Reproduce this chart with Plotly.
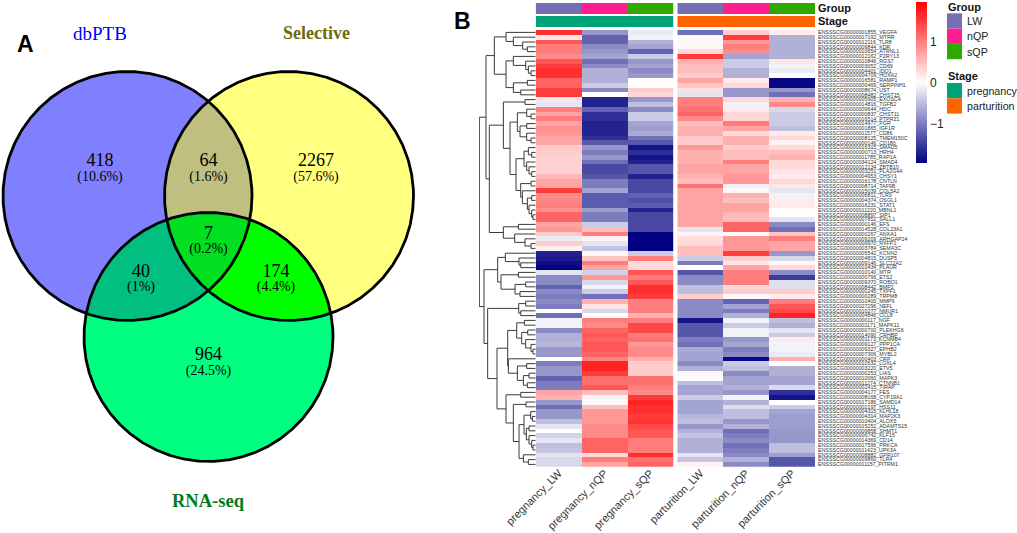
import numpy as np
import plotly.graph_objects as go

W, H = 1017, 533

# ---------- Venn data ----------
set_names = ["dbPTB", "Selective", "RNA-seq"]
region_counts = [418, 64, 2267, 40, 7, 174, 964]
region_percents = ["(10.6%)", "(1.6%)", "(57.6%)", "(1%)", "(0.2%)", "(4.4%)", "(24.5%)"]

# ---------- Heatmap data ----------
samples_pregnancy = ["pregnancy_LW", "pregnancy_nQP", "pregnancy_sQP"]
samples_parturition = ["parturition_LW", "parturition_nQP", "parturition_sQP"]
group_names = ["LW", "nQP", "sQP"]
stage_names = ["pregnancy", "parturition"]

gene_labels = """ENSSSCG00000001855_VEGFA
ENSSSCG00000017192_MTRR
ENSSSCG00000012116_TLR8
ENSSSCG00000009844_KDR
ENSSSCG00000010654_ATRNL1
ENSSSCG00000012162_P2RY13
ENSSSCG00000010846_RGS7
ENSSSCG00000003052_CD69
ENSSSCG00000004401_IDO1
ENSSSCG00000004709_HOXA2
ENSSSCG00000016581_RAMP1
ENSSSCG00000000469_SERPINH1
ENSSSCG00000008674_UST
ENSSSCG00000008482_CHST15
ENSSSCG00000005905_EXOSC4
ENSSSCG00000014816_TGFB2
ENSSSCG00000009644_HDC
ENSSSCG00000000837_CHST11
ENSSSCG00000016514_PTPRZ1
ENSSSCG00000014977_PGR
ENSSSCG00000001865_IGF1R
ENSSSCG00000011577_CD86
ENSSSCG00000008125_TMEM150C
ENSSSCG00000000146_CD180
ENSSSCG00000016315_SMAD5
ENSSSCG00000000713_HRH4
ENSSSCG00000011785_RAP1A
ENSSSCG00000034124_SMAD4
ENSSSCG00000012134_ZBTB10
ENSSSCG00000003251_PLA2G4A
ENSSSCG00000004953_CHSY1
ENSSSCG00000016178_CNTLN
ENSSSCG00000008714_TAF9B
ENSSSCG00000015039_COL5A2
ENSSSCG00000006811_TLR3
ENSSSCG00000004374_OSGL1
ENSSSCG00000016231_STAT1
ENSSSCG00000011220_MBNL1
ENSSSCG00000008897_SIP1
ENSSSCG00000007852_SALL1
ENSSSCG00000000146_EFS
ENSSSCG00000014528_COL23A1
ENSSSCG00000000267_ANXA1
ENSSSCG00000009209_ARHGAP24
ENSSSCG00000009970_RXFP1
ENSSSCG00000003784_SEMA3C
ENSSSCG00000005542_KCNN2
ENSSSCG00000004815_DUSP5
ENSSSCG00000009146_SLC22A2
ENSSSCG00000010434_PLAUR
ENSSSCG00000010140_MTR
ENSSSCG00000000796_ETS2
ENSSSCG00000009370_ROBO1
ENSSSCG00000008442_BMP2
ENSSSCG00000000245_TXPF1
ENSSSCG00000000289_TRPM8
ENSSSCG00000010400_MMP9
ENSSSCG00000027296_NEFL
ENSSSCG00000010277_NMUR1
ENSSSCG00000004846_CCL8
ENSSSCG00000000117_NGF
ENSSSCG00000001171_MAPK11
ENSSSCG00000000700_PLEKHG6
ENSSSCG00000014090_CRHBP
ENSSSCG00000001173_KCNMB4
ENSSSCG00000009127_PPP1CA
ENSSSCG00000009327_EPHB2
ENSSSCG00000007306_MYBL2
ENSSSCG00000000403_CRP
ENSSSCG00000010532_LOXL4
ENSSSCG00000003220_ETV5
ENSSSCG00000000253_LIAS
ENSSSCG00000010060_MAPK3
ENSSSCG00000011274_CTNNB1
ENSSSCG00000002415_TIRAP
ENSSSCG00000004177_FES
ENSSSCG00000008168_CYP19A1
ENSSSCG00000017186_SAMD14
ENSSSCG00000002197_HSS11
ENSSSCG00000004315_KLHL18
ENSSSCG00000004314_MAP2K3
ENSSSCG00000010404_ALOX5
ENSSSCG00000015252_ADAMTS15
ENSSSCG00000009858_SHMT1
ENSSSCG00000006742_KLF15
ENSSSCG00000014369_CD14
ENSSSCG00000017596_PRKCA
ENSSSCG00000011423_UPK3A
ENSSSCG00000008882_GPR107
ENSSSCG00000009860_TLR4
ENSSSCG00000011157_PITRM1""".split("\n")

pregnancy_LW = [1.6,.2,1.3,1,1,.9,1.3,1.5,1.6,1.6, 1.2,1.2,1.5,1.5,.2,-.2,1,.7,1,.7, .85,.8,.7,.7,.4,.4,.35,.35,.35,.35, .55,.7,.7,1.5,.9,.95,1,.85,1.2,1.2, .7,.8,.4,-.15,.4,.1,-1.7,-1.75,-1.85,-1.95, -.2,-.9,-.9,-1.2,-.9,-1,-.9,-1,0,-1.1, -.1,-.1,-.9,-.6,-.6,-.55,-.8,-.8,0,-1, -.8,-.8,-1.2,-1,-1,.7,.6,-.8,-1.1,-.8, -.8,-.5,-.2,0,-.35,-.2,-.5,-.45,-.2,-.3, -.3]
pregnancy_nQP = [-.8,-1.2,-1.2,-.9,-.8,-.7,-1.1,-.9,-.6,-.6, -.6,-.4,-.9,0,-1.7,-1.7,-1.2,-1.6,-1.6,-1.7, -1.7,-1.7,-1.6,-1.3,-.8,-1,-.8,-1.1,-1.4,-1.4, -1.3,-1,-1,-.7,-1.25,-1.25,-1.25,-.75,-1,-1, -.4,.5,1,.1,-.2,-.45,.05,.45,1,.7, -.35,.8,-.3,-.1,-.4,-1.1,.6,.2,-.3,0, 1,.9,1.2,1.3,1.2,1.3,1.3,1.2,.95,1.7, 1.7,1.5,1.1,1.1,1.3,.5,.1,.05,.5,.8, .8,.8,.9,.9,.9,1.2,1.2,1.2,.3,1, .7]
pregnancy_sQP = [-.15,-.1,-.6,-.7,-1.2,-.4,-.8,-.7,-.9,-.8, .03,.02,.4,.3,-.8,-.5,-.9,-.4,-.4,-.7, -.75,-.65,-1.1,-1.3,-1.8,-1.6,-1.8,-1.7,-1.3,-1.3, -1.7,-1.4,-1.4,-1.4,-1.2,-1.35,-1.25,-1.7,-1.4,-1.4, -1.4,-1.4,-1.95,-1.95,-1.95,-1.95,-.4,1,.3,.3, 1.3,1,1.3,1.6,1.6,1.5,1,1,1,.6, 1,1.4,1.4,1,1.1,.8,.9,.9,.6,.4, .4,.4,1.1,1.1,1,.9,1.5,1.7,1.6,1.6, 1.5,1.55,1.4,1.3,1.3,1,1,1,1.6,1.1, 1.2]
parturition_LW = [-1.1,.05,.05,.05,.3,1.5,.6,.5,.5,.4, .7,.45,.25,-.2,1,1,1.1,1.2,.9,.5, .6,.6,.4,.4,.8,.6,.6,.6,.7,.7, .6,.5,1.1,.7,.7,.7,.7,.7,.7,.7, .7,-.2,.1,.25,.3,.5,.5,-.4,-1,0, -1.3,-.9,-.9,-.5,-.5,.4,-.9,-.9,-.9,-.9, -1.8,-1.3,-1.3,-1.3,-1,-1.1,-.65,-.7,-.7,-.9, -.6,.07,0,-.5,-.7,-.7,-.4,-.7,-.7,-.7, -.55,-.5,-.8,-.6,-.45,-.6,-.6,-.6,-.2,-.45, .1]
parturition_nQP = [.4,1.5,.8,1,.9,-.7,-.4,-.4,-.6,-.6, .15,.3,-.8,-.8,.3,-.1,.15,.3,.3,1, .7,.3,.6,.6,.4,.5,.5,1,.7,.7, .8,.8,-.1,.05,.6,.5,.7,.7,.55,.5, 1.2,1.2,.05,.8,.8,.8,1.5,.4,.2,.7, 1,1,1,.3,.4,.05,-1.2,-.7,-1,-.6, -.1,-.4,-.1,-.1,-.8,-.7,-1,-.9,-1.9,-.4, -.5,-.9,-.7,-.7,-.6,-.8,-.1,-.6,-.25,-.5, -.5,-.8,-.6,-1.1,-1,-.9,-1.1,-1,-.9,-.6, -.9]
parturition_sQP = [.15,-.6,-.6,-.6,-.6,-.6,.2,-.1,-.15,0, -1.9,-1.9,-.8,-1.1,.6,.9,-.3,-.4,-.4,-.4, -.5,.15,.3,.1,.3,.5,.6,.3,.3,.2, .15,.3,.2,-.2,-.1,.15,.15,.02,.02,-.2, -.9,-1.1,.45,1,.7,.7,-.8,-.3,.05,.3, -.9,-1.5,-.25,-.25,.4,.15,1,1.3,1.4,1.7, -.5,-.6,-.2,-.4,.15,-.1,-.1,-.15,.6,0, -.6,-.6,-.7,-.7,-.3,-1.6,-1.8,0,-.4,-.7, -.75,-.75,-.75,-.8,-.8,-.8,-.5,-.5,-.75,-1.3, -1.3]

# Row dendrogram: nested (height, left, right); integers are rows.
dendro = (169,
  (149,
    (124,
      (89, 0, (67, 1, (39, 2, (25, 3, 4)))),
      (89,
        (67, 5, (30, 6, (22, 7, (14, 8, 9)))),
        (67, (25, 10, 11), (45, 12, 13)))),
    (139,
      (97,
        (32, 14, 15),
        (77,
          (55,
            (27, 16, (14, 17, 18)),
            (47, (27, 19, 20), (27, 21, (14, 22, 23)))),
          (59,
            (35,
              (22, 24, (12, 25, 26)),
              (27, 27, (20, 28, (12, 29, 30)))),
            (45,
              (14, 31, 32),
              (40, 33, (25, (12, 34, 35), (20, 36, (12, 37, (8, 38, 39))))))))),
      (97,
        (52, 40, 41),
        (63, 42, (32, 43, (14, 44, 45)))))),
  (155,
    (114,
      (91, 46, (50, 47, (45, 48, 49))),
      (104,
        (52, 50, 51),
        (62, (30, 52, 53), (47, 54, 55)))),
    (144,
      (51, (30, 56, 57), (45, 58, 59)),
      (116,
        (84,
          (57,
            (34, 60, 61),
            (42, (24, 62, 63), (30, 64, (14, 65, (8, 66, 67))))),
          (82,
            68,
            (55, (27, 69, 70), (37, (20, 71, 72), (25, 73, 74))))),
        (89,
          (45, 75, 76),
          (67,
            (29, 77, 78),
            (50,
              (35,
                (15, 79, (10, 80, 81)),
                (28, (20, 82, 83), (20, 84, (12, 85, (8, 86, 87))))),
              (37, 88, (22, 89, 90))))))))
)

# ---------- Styling ----------
def px_x(p): return p / W
def px_y(p): return 1 - p / H

SANS = "Liberation Sans"
SERIF = "Liberation Serif"
colors_group = ["#7570B3", "#FF1E8E", "#2FA800"]
colors_stage = ["#00A277", "#FF6400"]
heat_scale = [[0, "#000080"], [0.5, "#FFFFFF"], [1, "#FF0000"]]

circles = [(127.5, 196, 124.5), (289, 196, 124.5), (208.5, 337, 124.5)]
region_text_xy = [(100, 161.5), (208.5, 161.5), (316, 161.5), (141, 272), (208.5, 234), (276, 272), (208.5, 355.5)]


def intersection_polygon(idx):
    """Outline of the (convex) intersection of the chosen circles."""
    cx = np.mean([circles[i][0] for i in idx])
    cy = np.mean([circles[i][1] for i in idx])
    th = np.linspace(0, 2 * np.pi, 721)
    dx, dy = np.cos(th), np.sin(th)
    radii = []
    for i in idx:
        ox, oy, r = circles[i]
        px, py = cx - ox, cy - oy
        b = px * dx + py * dy
        c = px * px + py * py - r * r
        radii.append(-b + np.sqrt(b * b - c))
    t = np.min(radii, axis=0)
    return cx + t * dx, cy + t * dy


fig = go.Figure()

# ---------- Venn panel (axes in pixel-like units) ----------
VX, VY = "x6", "y3"
for idx, col in [((0,), "#8080FF"), ((1,), "#FFFF80"), ((2,), "#00FF80"),
                 ((0, 1), "#BFBF80"), ((0, 2), "#00BF80"), ((1, 2), "#00FF00"),
                 ((0, 1, 2), "#00DF20")]:
    xs, ys = intersection_polygon(idx)
    fig.add_trace(go.Scatter(x=xs, y=ys, mode="lines", fill="toself", fillcolor=col,
                             line=dict(width=0, color=col), xaxis=VX, yaxis=VY,
                             showlegend=False, hoverinfo="skip"))
for i in range(3):
    xs, ys = intersection_polygon((i,))
    fig.add_trace(go.Scatter(x=xs, y=ys, mode="lines", line=dict(width=2.8, color="#000000"),
                             xaxis=VX, yaxis=VY, showlegend=False, hoverinfo="skip"))

fig.add_trace(go.Scatter(
    x=[p[0] for p in region_text_xy], y=[p[1] for p in region_text_xy],
    mode="text", text=[str(v) for v in region_counts],
    textfont=dict(family=SERIF, size=18, color="#000000"),
    textposition="middle center", xaxis=VX, yaxis=VY, showlegend=False, hoverinfo="skip"))
fig.add_trace(go.Scatter(
    x=[p[0] for p in region_text_xy], y=[p[1] + 15.5 for p in region_text_xy],
    mode="text", text=region_percents,
    textfont=dict(family=SERIF, size=14, color="#000000"),
    textposition="middle center", xaxis=VX, yaxis=VY, showlegend=False, hoverinfo="skip"))

# ---------- Dendrogram ----------
def walk(node, xs, ys):
    if isinstance(node, int):
        return 0.0, float(node)
    h, left, right = node
    lh, ly = walk(left, xs, ys)
    rh, ry = walk(right, xs, ys)
    xs.extend([lh, h, h, rh, None])
    ys.extend([ly, ly, ry, ry, None])
    return h, (ly + ry) / 2

dx, dy = [], []
walk(dendro, dx, dy)
fig.add_trace(go.Scatter(x=dx, y=dy, mode="lines", line=dict(color="#3A3A3A", width=1),
                         xaxis="x5", yaxis="y", showlegend=False, hoverinfo="skip"))

# ---------- Heatmap ----------
rows = list(range(len(gene_labels)))
z_preg = np.column_stack([pregnancy_LW, pregnancy_nQP, pregnancy_sQP])
z_part = np.column_stack([parturition_LW, parturition_nQP, parturition_sQP])
fig.add_trace(go.Heatmap(z=z_preg, x=[0, 1, 2], y=rows, colorscale=heat_scale, zmin=-1.96, zmax=1.96,
                         xaxis="x", yaxis="y", showscale=False, hoverinfo="skip"))
fig.add_trace(go.Heatmap(z=z_part, x=[0, 1, 2], y=rows, colorscale=heat_scale, zmin=-1.96, zmax=1.96,
                         xaxis="x2", yaxis="y", hoverinfo="skip",
                         colorbar=dict(x=px_x(916), xanchor="left", y=px_y(2), yanchor="top",
                                       lenmode="pixels", len=161, thicknessmode="pixels", thickness=11,
                                       xpad=0, ypad=0, outlinewidth=0, ticks="", tickvals=[-1, 0, 1],
                                       ticktext=["\u22121", "0", "1"],
                                       tickfont=dict(family=SANS, size=12, color="#222222"))))

# annotation rows: one discrete colour scale for groups then stages
ann_colors = colors_group + colors_stage
ann_scale = []
for i, c in enumerate(ann_colors):
    ann_scale += [[i / 5, c], [(i + 1) / 5, c]]
fig.add_trace(go.Heatmap(z=[[0, 1, 2], [3, 3, 3]], x=[0, 1, 2], y=[0, 1], colorscale=ann_scale, zmin=-0.5, zmax=4.5,
                         ygap=2, xaxis="x", yaxis="y2", showscale=False, hoverinfo="skip"))
fig.add_trace(go.Heatmap(z=[[0, 1, 2], [4, 4, 4]], x=[0, 1, 2], y=[0, 1], colorscale=ann_scale, zmin=-0.5, zmax=4.5,
                         ygap=2, xaxis="x2", yaxis="y2", showscale=False, hoverinfo="skip"))

# ---------- Legends ----------
shapes = []
annotations = []
def add_swatches(labels, cols, top, title, title_y):
    annotations.append(dict(x=px_x(946), y=px_y(title_y), xref="paper", yref="paper", text="<b>%s</b>" % title,
                            showarrow=False, xanchor="left", yanchor="middle",
                            font=dict(family=SANS, size=11, color="#111111")))
    for i, (lab, col) in enumerate(zip(labels, cols)):
        y0 = top + 15.3 * i
        shapes.append(dict(type="rect", xref="paper", yref="paper", x0=px_x(947), x1=px_x(962),
                           y0=px_y(y0), y1=px_y(y0 + 15.3), fillcolor=col, line=dict(width=0)))
        annotations.append(dict(x=px_x(964.5), y=px_y(y0 + 7.6), xref="paper", yref="paper", text=lab,
                                showarrow=False, xanchor="left", yanchor="middle",
                                font=dict(family=SANS, size=10.7, color="#222222")))

add_swatches(group_names, colors_group, 13.3, "Group", 6.5)
add_swatches(stage_names, colors_stage, 83, "Stage", 76)

# Venn set titles and panel letters
for txt, x, y, col, size, bold in [(set_names[0], 100, 33, "#0000FF", 19, False),
                                   (set_names[1], 316, 33, "#6B6B10", 18, True),
                                   (set_names[2], 208, 501, "#007A20", 18.5, True)]:
    annotations.append(dict(x=x, y=y, xref=VX, yref=VY, text="<b>%s</b>" % txt if bold else txt,
                            showarrow=False, xanchor="center", yanchor="middle",
                            font=dict(family=SERIF, size=size, color=col)))
for txt, x, y in [("A", 25, 44), ("B", 462, 21)]:
    annotations.append(dict(x=px_x(x), y=px_y(y), xref="paper", yref="paper", text="<b>%s</b>" % txt,
                            showarrow=False, xanchor="center", yanchor="middle",
                            font=dict(family=SANS, size=23, color="#000000")))

hidden = dict(visible=False, showgrid=False, zeroline=False, automargin=False)
xtick = dict(tickmode="array", tickvals=[0, 1, 2], tickangle=-45, ticks="", showgrid=False, zeroline=False,
             showline=False, range=[-0.5, 2.5], automargin=False, ticklabelstandoff=-3,
             tickfont=dict(family=SANS, size=11, color="#333333"))

fig.update_layout(
    template="none",
    width=W, height=H, autosize=False, margin=dict(l=0, r=0, t=0, b=0, pad=0, autoexpand=False),
    paper_bgcolor="white", plot_bgcolor="white", showlegend=False, shapes=shapes, annotations=annotations,
    xaxis=dict(domain=[px_x(535.7), px_x(673.3)], anchor="y", ticktext=samples_pregnancy, **xtick),
    xaxis2=dict(domain=[px_x(677.3), px_x(815)], anchor="y", ticktext=samples_parturition, **xtick),
    xaxis5=dict(domain=[px_x(479), px_x(535.7)], range=[170, 0], anchor="y", **hidden),
    xaxis6=dict(domain=[0, px_x(427)], range=[0, 427], anchor="y3", **hidden),
    yaxis=dict(domain=[px_y(466.8), px_y(30)], range=[90.5, -0.5], anchor="x2", side="right", automargin=False,
               tickmode="array", tickvals=rows, ticktext=gene_labels, ticks="", showgrid=False, zeroline=False,
               showline=False, ticklabelstandoff=2, tickfont=dict(family=SANS, size=5.3, color="#333333")),
    yaxis2=dict(domain=[px_y(27.7), px_y(2)], range=[1.5, -0.5], anchor="x2", side="right", automargin=False,
                tickmode="array", tickvals=[0, 1], ticktext=["<b>Group</b>", "<b>Stage</b>"], ticks="",
                showgrid=False, zeroline=False, showline=False, ticklabelstandoff=2,
                tickfont=dict(family=SANS, size=11, color="#111111")),
    yaxis3=dict(domain=[0, 1], range=[533, 0], anchor="x6", **hidden),
)

fig.write_html("out.html", config={"displayModeBar": False},
               post_script="document.body.style.margin='0';document.body.style.overflow='hidden';")
